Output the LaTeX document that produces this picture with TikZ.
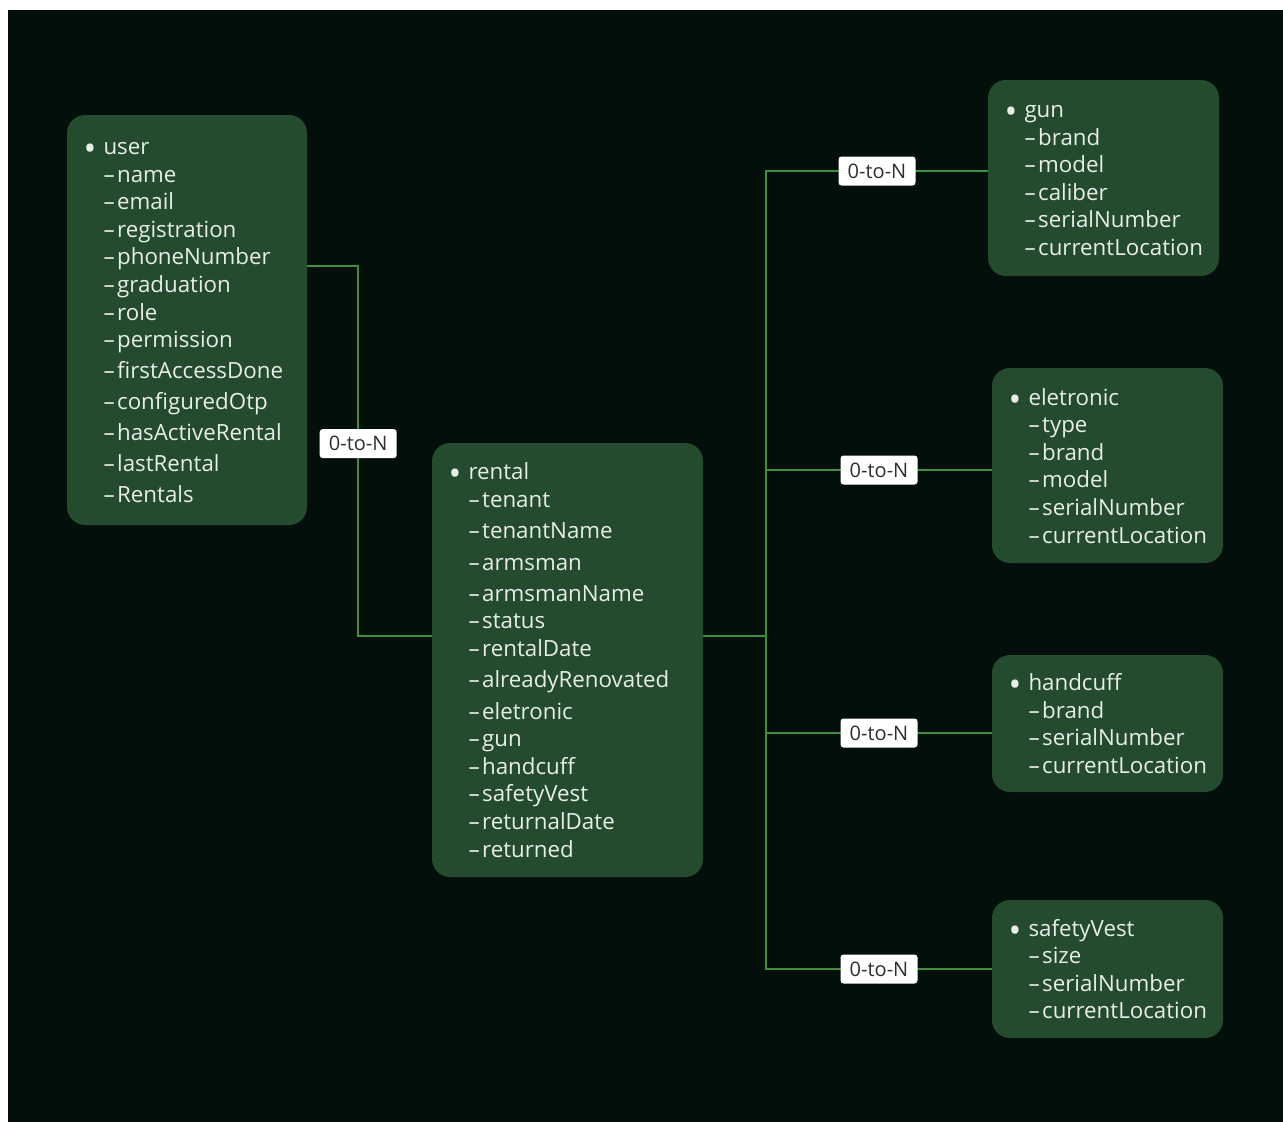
\documentclass[tikz,border=0pt]{standalone}
\usepackage{fontspec}
\setsansfont{Open Sans}
\usetikzlibrary{positioning}
\tikzset{every picture/.style={/utils/exec={\sffamily}}}

\definecolor{bgdark}{HTML}{020F0B}
\definecolor{boxgreen}{HTML}{244B2E}
\definecolor{linegreen}{HTML}{3E8E3E}
\definecolor{textlight}{HTML}{E8EEE8}
\definecolor{tagtext}{HTML}{2E2E2E}

\newcommand{\enthead}[1]{\mbox{\strut\rule{0pt}{\dimexpr.7\baselineskip+6pt\relax}\makebox[20pt][l]{\raisebox{-6pt}{\fontsize{34}{0}\selectfont •}}#1}}
\newcommand{\entattr}[1]{\mbox{\strut\hspace*{20pt}–\hspace{2.5pt}#1}}

\begin{document}
\begin{tikzpicture}[x=1pt, y=-1pt, node distance=1cm]
  \tikzstyle{entity} = [rectangle, rounded corners=18pt, fill=boxgreen, text=textlight, align=left, inner xsep=16.5pt, inner ysep=0pt, font=\fontsize{22.3}{27.6}\selectfont]
  \tikzstyle{small} = [text width=198pt]
  \tikzstyle{tag} = [rectangle, rounded corners=3pt, fill=white, text=tagtext, minimum width=77pt, minimum height=29pt, inner sep=0pt, font=\fontsize{20}{20}\selectfont]
  \tikzstyle{link} = [draw=linegreen, line width=1.5pt]

  \useasboundingbox (0,0) rectangle (1283,1122);
  \fill [bgdark] (8,10) rectangle (1283,1122);

  \node (user) [entity, text width=207pt, minimum height=410pt] at (187,320) {\enthead{user}\\ \entattr{name}\\ \entattr{email}\\ \entattr{registration}\\ \entattr{phoneNumber}\\ \entattr{graduation}\\ \entattr{role}\\ \entattr{permission}\\[3.4pt] \entattr{firstAccessDone}\\[3.4pt] \entattr{configuredOtp}\\[3.4pt] \entattr{hasActiveRental}\\[3.4pt] \entattr{lastRental}\\[3.4pt] \entattr{Rentals}};
  \node (rental) [entity, text width=238pt, minimum height=434pt, node distance=380.5pt, right of=user, yshift=-340pt] {\enthead{rental}\\ \entattr{tenant}\\[3.5pt] \entattr{tenantName}\\[4pt] \entattr{armsman}\\[3.5pt] \entattr{armsmanName}\\ \entattr{status}\\ \entattr{rentalDate}\\[3.5pt] \entattr{alreadyRenovated}\\[4pt] \entattr{eletronic}\\ \entattr{gun}\\ \entattr{handcuff}\\ \entattr{safetyVest}\\ \entattr{returnalDate}\\ \entattr{returned}};
  \node (gun) [entity, small, minimum height=196pt, node distance=536pt, right of=rental, yshift=482pt] {\enthead{gun}\\ \entattr{brand}\\ \entattr{model}\\ \entattr{caliber}\\ \entattr{serialNumber}\\ \entattr{currentLocation}};
  \node (eletronic) [entity, small, minimum height=195pt, node distance=287.5pt, below of=gun, xshift=4pt] {\enthead{eletronic}\\ \entattr{type}\\ \entattr{brand}\\ \entattr{model}\\ \entattr{serialNumber}\\ \entattr{currentLocation}};
  \node (handcuff) [entity, small, minimum height=137pt, node distance=258pt, below of=eletronic] {\enthead{handcuff}\\ \entattr{brand}\\ \entattr{serialNumber}\\ \entattr{currentLocation}};
  \node (safetyVest) [entity, small, minimum height=138pt, node distance=245.5pt, below of=handcuff] {\enthead{safetyVest}\\ \entattr{size}\\ \entattr{serialNumber}\\ \entattr{currentLocation}};

  % user to rental, then rental out to the bus
  \coordinate (bus) at ([xshift=63pt, yshift=24pt]rental.east);
  \draw [link] ([yshift=54pt]user.east) -- ++(51,0) |- ([yshift=24pt]rental.west) node [tag, pos=0.24] {0-to-N};
  \draw [link] ([yshift=24pt]rental.east) -- (bus);
  \draw [link] (bus) |- ([yshift=7pt]gun.west) node [tag, pos=0.75] {0-to-N};
  \draw [link] (bus) |- ([yshift=-4.5pt]eletronic.west) node [tag, pos=0.75] {0-to-N};
  \draw [link] (bus) |- ([yshift=-9.5pt]handcuff.west) node [tag, pos=0.75] {0-to-N};
  \draw [link] (bus) |- (safetyVest.west) node [tag, pos=0.75] {0-to-N};
\end{tikzpicture}
\end{document}
